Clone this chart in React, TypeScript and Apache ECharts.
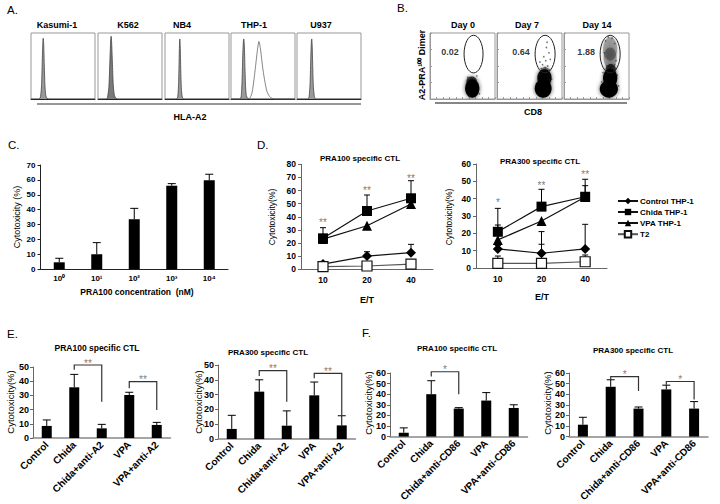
import { useEffect, useRef } from 'react';
import * as echarts from 'echarts';

const FONT = '"Liberation Sans", Arial, Helvetica, sans-serif';

// ---------- Panel A: HLA-A2 histograms ----------
const histTitles = ['Kasumi-1', 'K562', 'NB4', 'THP-1', 'U937'];
const histKasumi = [[0, 0], [13, 0], [15, 4], [16.5, 20], [17.5, 55], [18.5, 85], [19, 92], [19.8, 84], [20.8, 50], [21.8, 20], [23, 6], [25, 1], [28, 0], [100, 0]];
const histK562 = [[0, 0], [13, 0], [15, 3], [17, 18], [18.5, 55], [19.8, 88], [20.5, 95], [21.3, 86], [22.5, 55], [23.8, 22], [25.5, 6], [28, 1], [31, 0], [100, 0]];
const histNB4 = [[0, 0], [18, 0], [20, 4], [21.3, 25], [22.2, 65], [22.8, 88], [23.2, 91], [23.8, 80], [24.6, 45], [25.6, 15], [27, 3], [29, 0], [100, 0]];
const histTHP1Iso = [[0, 0], [14, 0], [16, 5], [17.3, 28], [18.5, 70], [19.5, 89], [20, 91], [20.8, 82], [21.8, 48], [22.8, 18], [24, 5], [26, 1], [29, 0], [100, 0]];
const histTHP1Stain = [[0, 0], [26, 0], [30, 2], [33, 10], [36, 30], [39, 55], [41, 72], [42.5, 82], [43.5, 87], [44.5, 85], [46, 76], [48, 60], [50, 44], [53, 26], [56, 12], [60, 4], [64, 1], [68, 0], [100, 0]];
const histU937 = [[0, 0], [17, 0], [19, 4], [20.5, 25], [21.6, 65], [22.5, 88], [23, 91], [23.6, 84], [24.5, 52], [25.5, 20], [27, 5], [29, 0], [100, 0]];

// ---------- Panel B: dimer staining ----------
const dayTitles = ['Day 0', 'Day 7', 'Day 14'];
const gateLabels = ['0.02', '0.64', '1.88'];
const gates = [[67, 68, 14.6, 28.5], [74, 68, 15.4, 28.5], [71, 68, 15.4, 28.5]];
// density clouds: [cx, cy, rx, ry, opacity]
const cloudDay0 = [[65, 16, 11, 14, 1], [64, 27, 8, 7, 0.7]];
const cloudDay7 = [[71, 16, 13, 14, 1], [73, 32, 11, 13, 0.95], [74, 42, 7, 6, 0.45]];
const cloudDay14 = [[71, 62, 10, 16, 0.3], [71, 76, 11, 18, 0.28], [69, 15, 14, 13, 1], [71, 32, 11, 14, 1], [72, 45, 8, 8, 0.7]];
// sparse events: [x, y]
const sparseDay0 = [[58, 33], [72, 35], [60, 4], [76, 8]];
const sparseDay7 = [[70, 52], [75, 58], [78, 50], [72, 64], [80, 70], [76, 78], [82, 60], [74, 48], [68, 46], [77, 86], [66, 56], [81, 44], [64, 38], [84, 30]];
const sparseDay14 = [[64, 88], [78, 84], [62, 70], [80, 58], [66, 50], [78, 52], [60, 40], [82, 36], [58, 26], [84, 20], [74, 92], [68, 94]];

// ---------- Panel C ----------
const concLabels = ['10⁰', '10¹', '10²', '10³', '10⁴'];
const concMean = [4.7, 10.1, 33.6, 56.1, 59.7];
const concSd = [2.7, 7.8, 7.3, 1.4, 4.1];

// ---------- Panel D ----------
const etLabels = ['10', '20', '40'];
const dNames = ['Control THP-1', 'Chida THP-1', 'VPA THP-1', 'T2'];
const d100Control = [4, 10.1, 12.7];
const d100ControlSd = [2, 3.3, 6.3];
const d100Chida = [23.6, 44.4, 54.1];
const d100ChidaSd = [8.1, 12.2, 13.4];
const d100VPA = [23, 33.2, 49.8];
const d100VPASd = [0, 0, 0];
const d100T2 = [2, 2.5, 4];
const d100T2Sd = [1, 1.5, 1];
const d100Stars = ['**', '**', '**'];
const d100StarY = [37.5, 61.7, 71];
const d300Control = [11, 8.5, 11];
const d300ControlSd = [2, 12.5, 14.2];
const d300Chida = [20.9, 35.4, 41.1];
const d300ChidaSd = [13.5, 10, 10.1];
const d300VPA = [16.2, 27.1, 41];
const d300VPASd = [8.6, 0, 6.5];
const d300T2 = [2.7, 2.7, 3.6];
const d300T2Sd = [4.2, 11, 3.9];
const d300Stars = ['*', '**', '**'];
const d300StarY = [39, 49, 55];

// ---------- Panels E and F ----------
const eCats = ['Control', 'Chida', 'Chida+anti-A2', 'VPA', 'VPA+anti-A2'];
const fCats = ['Control', 'Chida', 'Chida+anti-CD86', 'VPA', 'VPA+anti-CD86'];
const e100Mean = [8.5, 35.7, 6.8, 30.3, 9.2];
const e100Sd = [4.2, 9.1, 2.8, 1.9, 1.8];
const e300Mean = [6.8, 32, 9, 29.5, 9.2];
const e300Sd = [9.2, 8, 10, 9, 6.5];
const f100Mean = [3.6, 40, 26.4, 34, 27];
const f100Sd = [4.6, 12.7, 0.9, 7.5, 3];
const f300Mean = [11.2, 47, 26.4, 44.5, 26.4];
const f300Sd = [7, 6.6, 1.5, 4, 6.6];
// [from, to, top, leftEnd, rightEnd]
const e100Brackets = [[1, 2, 51.4, 48, 25.6], [3, 4, 39.7, 35, 19.7]];
const e100BracketLabels = ['**', '**'];
const e300Brackets = [[1, 2, 46.2, 42.6, 25.2], [3, 4, 44.4, 41, 16.2]];
const e300BracketLabels = ['**', '**'];
const f100Brackets = [[1, 2, 61.2, 56.7, 40]];
const f100BracketLabels = ['*'];
const f300Brackets = [[1, 2, 56.6, 53.6, 43], [3, 4, 52, 49, 35]];
const f300BracketLabels = ['*', '*'];

function txt(x: number, y: number, text: string, size: number, weight = 'bold', opts: any = {}) {
  const align = opts.align || 'center';
  return {
    type: 'text',
    x,
    y,
    rotation: opts.rot || 0,
    silent: true,
    style: {
      text,
      fontSize: size,
      fontWeight: weight,
      fontFamily: FONT,
      fill: opts.fill || '#000',
      align,
      verticalAlign: 'middle',
      textAlign: align,
      textVerticalAlign: 'middle',
    },
  };
}

function buildOption() {
  const grids: any[] = [];
  const xAxes: any[] = [];
  const yAxes: any[] = [];
  const series: any[] = [];

  const addGrid = (g: any, xa: any, ya: any) => {
    grids.push(g);
    const i = grids.length - 1;
    xAxes.push({ ...xa, gridIndex: i });
    yAxes.push({ ...ya, gridIndex: i });
    return i;
  };

  const errSeries = (idx: number, means: number[], sds: number[], half: number, color = '#000') => ({
    type: 'custom',
    xAxisIndex: idx,
    yAxisIndex: idx,
    z: 3,
    clip: false,
    silent: true,
    itemStyle: { color },
    encode: { x: 0, y: 1 },
    data: means.map((m, i) => [i, m, sds[i]]),
    renderItem: (_p: any, api: any) => {
      const x = api.value(0);
      const m = api.value(1);
      const s = api.value(2);
      if (!(s > 0)) return { type: 'group', children: [] };
      const p0 = api.coord([x, m]);
      const p1 = api.coord([x, m + s]);
      return {
        type: 'group',
        children: [
          { type: 'line', shape: { x1: p0[0], y1: p0[1], x2: p1[0], y2: p1[1] }, style: { stroke: color, lineWidth: 1 } },
          { type: 'line', shape: { x1: p1[0] - half, y1: p1[1], x2: p1[0] + half, y2: p1[1] }, style: { stroke: color, lineWidth: 1 } },
        ],
      };
    },
  });

  // text labels through a transparent scatter series
  const labelSeries = (idx: number, pts: number[][], labels: string[], offsetX: number, offsetY: number, size = 10, color = '#555', weight = 'normal') => ({
    type: 'scatter',
    xAxisIndex: idx,
    yAxisIndex: idx,
    z: 6,
    clip: false,
    silent: true,
    symbol: 'circle',
    symbolSize: 1,
    itemStyle: { color: 'rgba(255,255,255,0)' },
    data: pts,
    label: {
      show: true,
      position: 'inside',
      offset: [offsetX, offsetY],
      formatter: (p: any) => labels[p.dataIndex],
      color,
      textBorderWidth: 0,
      textBorderColor: 'transparent',
      textShadowBlur: 0,
      fontSize: size,
      fontWeight: weight,
      fontFamily: FONT,
    },
  });

  const bracketSeries = (idx: number, br: number[][]) => ({
    type: 'custom',
    xAxisIndex: idx,
    yAxisIndex: idx,
    z: 5,
    clip: false,
    silent: true,
    encode: { x: 0, y: 2 },
    data: br,
    renderItem: (_p: any, api: any) => {
      const from = api.value(0);
      const to = api.value(1);
      const top = api.value(2);
      const pL = api.coord([from, api.value(3)]);
      const pT1 = api.coord([from, top]);
      const pT2 = api.coord([to, top]);
      const pR = api.coord([to, api.value(4)]);
      return { type: 'polyline', shape: { points: [pL, pT1, pT2, pR] }, style: { stroke: '#333', lineWidth: 1.2, fill: 'none' } };
    },
  });

  // ---- Panel A ----
  const aLefts = [31, 98, 165, 231, 297];
  const aHists = [[histKasumi], [histK562], [histNB4], [histTHP1Iso, histTHP1Stain], [histU937]];
  aLefts.forEach((left, i) => {
    const idx = addGrid(
      { left, top: 33, width: 64, height: 66, show: true, borderColor: '#999', borderWidth: 1 },
      { type: 'value', min: 0, max: 100, axisLine: { show: true, onZero: false, lineStyle: { color: '#222', width: 1 } }, axisTick: { show: false }, axisLabel: { show: false }, splitLine: { show: false } },
      { type: 'value', min: 0, max: 100, show: false }
    );
    aHists[i].forEach((h, k) => {
      series.push({
        type: 'line',
        xAxisIndex: idx,
        yAxisIndex: idx,
        data: h,
        showSymbol: false,
        smooth: 0.2,
        silent: true,
        lineStyle: { color: k === 0 ? '#444' : '#666', width: 0.8 },
        areaStyle: k === 0 ? { color: i === 1 ? '#7a7a7a' : '#9a9a9a', opacity: 1 } : undefined,
      });
    });
  });

  // ---- Panel B ----
  const bLefts = [430, 497, 564];
  const bClouds = [cloudDay0, cloudDay7, cloudDay14];
  const bSparse = [sparseDay0, sparseDay7, sparseDay14];
  bLefts.forEach((left, i) => {
    const idx = addGrid(
      { left, top: 33, width: 65, height: 66, show: true, borderColor: '#999', borderWidth: 1 },
      { type: 'value', min: 0, max: 100, interval: 10, axisLine: { show: true, onZero: false, lineStyle: { color: '#999' } }, axisTick: { show: true, inside: true, length: 2, lineStyle: { color: '#999' } }, axisLabel: { show: false }, splitLine: { show: false } },
      { type: 'value', min: 0, max: 100, interval: 25, axisLine: { show: true, onZero: false, lineStyle: { color: '#999' } }, axisTick: { show: true, inside: true, length: 2, lineStyle: { color: '#999' } }, axisLabel: { show: false }, splitLine: { show: false } }
    );
    series.push({
      type: 'custom',
      xAxisIndex: idx,
      yAxisIndex: idx,
      z: 2,
      clip: true,
      silent: true,
      data: bClouds[i],
      renderItem: (_p: any, api: any) => {
        const c = api.coord([api.value(0), api.value(1)]);
        const sz = api.size([api.value(2), api.value(3)]);
        return {
          type: 'ellipse',
          shape: { cx: c[0], cy: c[1], rx: sz[0], ry: sz[1] },
          style: { fill: '#000', opacity: api.value(4), shadowBlur: 4, shadowColor: 'rgba(0,0,0,0.7)' },
        };
      },
    });
    series.push({
      type: 'scatter',
      xAxisIndex: idx,
      yAxisIndex: idx,
      silent: true,
      symbolSize: 1.6,
      itemStyle: { color: '#333', opacity: 0.7 },
      data: bSparse[i],
    });
    series.push({
      type: 'custom',
      xAxisIndex: idx,
      yAxisIndex: idx,
      z: 5,
      clip: false,
      silent: true,
      data: [gates[i]],
      renderItem: (_p: any, api: any) => {
        const c = api.coord([api.value(0), api.value(1)]);
        const sz = api.size([api.value(2), api.value(3)]);
        return { type: 'ellipse', shape: { cx: c[0], cy: c[1], rx: sz[0], ry: sz[1] }, style: { fill: 'none', stroke: '#222', lineWidth: 1 } };
      },
    });
    // gate percentage label, placed left of the gate
    series.push(labelSeries(idx, [[gates[i][0] - gates[i][2], gates[i][1]]], [gateLabels[i]], -14, -2, 9, '#000', 'bold'));
  });

  // ---- Panel C ----
  const cIdx = addGrid(
    { left: 40.5, top: 165, width: 187.5, height: 104.3 },
    { type: 'category', data: concLabels, axisLine: { lineStyle: { color: '#222' } }, axisTick: { show: false }, axisLabel: { interval: 0, fontSize: 8, fontWeight: 'bold', color: '#000', margin: 5, fontFamily: FONT } },
    { type: 'value', min: 0, max: 70, interval: 10, axisLine: { show: true, lineStyle: { color: '#222' } }, axisTick: { show: true, length: 3, lineStyle: { color: '#222' } }, axisLabel: { fontSize: 8, fontWeight: 'bold', color: '#000', margin: 5, fontFamily: FONT }, splitLine: { show: false } }
  );
  series.push({ type: 'bar', xAxisIndex: cIdx, yAxisIndex: cIdx, data: concMean, barWidth: 11, itemStyle: { color: '#000' }, silent: true });
  series.push(errSeries(cIdx, concMean, concSd, 4));

  // ---- Panel D ----
  const dPanels = [
    { left: 301, top: 164.3, width: 132, height: 105, max: 80, vals: [d100Control, d100Chida, d100VPA, d100T2], sds: [d100ControlSd, d100ChidaSd, d100VPASd, d100T2Sd], stars: d100Stars, starY: d100StarY },
    { left: 476, top: 164, width: 131, height: 104, max: 60, vals: [d300Control, d300Chida, d300VPA, d300T2], sds: [d300ControlSd, d300ChidaSd, d300VPASd, d300T2Sd], stars: d300Stars, starY: d300StarY },
  ];
  const symbols = ['diamond', 'rect', 'triangle', 'rect'];
  const symSizes = [10, 10, 10, 10];
  dPanels.forEach((p) => {
    const idx = addGrid(
      { left: p.left, top: p.top, width: p.width, height: p.height },
      { type: 'category', data: etLabels, axisLine: { lineStyle: { color: '#666' } }, axisTick: { show: false }, axisLabel: { interval: 0, fontSize: 8.5, fontWeight: 'bold', color: '#000', margin: 6, fontFamily: FONT } },
      { type: 'value', min: 0, max: p.max, interval: 10, axisLine: { show: true, lineStyle: { color: '#666' } }, axisTick: { show: true, length: 3, lineStyle: { color: '#666' } }, axisLabel: { fontSize: 8.5, fontWeight: 'bold', color: '#000', margin: 5, fontFamily: FONT }, splitLine: { show: false } }
    );
    p.vals.forEach((v, k) => {
      series.push(errSeries(idx, v, p.sds[k], 3));
    });
    p.vals.forEach((v, k) => {
      series.push({
        type: 'line',
        name: dNames[k],
        xAxisIndex: idx,
        yAxisIndex: idx,
        data: v,
        z: 4,
        symbol: symbols[k],
        symbolSize: symSizes[k],
        silent: true,
        lineStyle: { color: k === 3 ? '#555' : '#111', width: 1.2 },
        itemStyle: k === 3 ? { color: '#fff', borderColor: '#111', borderWidth: 1.2 } : { color: '#000' },
      });
    });
    series.push(labelSeries(idx, p.starY.map((y, i) => [i, y]), p.stars, 0, 2));
  });

  // ---- Panels E and F ----
  const barPanels = [
    { left: 33, top: 367, width: 137.5, height: 71, max: 50, cats: eCats, mean: e100Mean, sd: e100Sd, br: e100Brackets, brl: e100BracketLabels },
    { left: 218, top: 365, width: 137.5, height: 74, max: 50, cats: eCats, mean: e300Mean, sd: e300Sd, br: e300Brackets, brl: e300BracketLabels },
    { left: 390, top: 373, width: 137.5, height: 66, max: 60, cats: fCats, mean: f100Mean, sd: f100Sd, br: f100Brackets, brl: f100BracketLabels },
    { left: 569, top: 373, width: 139, height: 66, max: 60, cats: fCats, mean: f300Mean, sd: f300Sd, br: f300Brackets, brl: f300BracketLabels },
  ];
  barPanels.forEach((p) => {
    const idx = addGrid(
      { left: p.left, top: p.top, width: p.width, height: p.height },
      { type: 'category', data: p.cats, axisLine: { lineStyle: { color: '#888', width: 1.5 } }, axisTick: { show: false }, axisLabel: { interval: 0, rotate: 45, fontSize: 10, fontWeight: 'bold', color: '#000', margin: 5, fontFamily: FONT } },
      { type: 'value', min: 0, max: p.max, interval: 10, axisLine: { show: true, lineStyle: { color: '#666' } }, axisTick: { show: true, length: 3, lineStyle: { color: '#666' } }, axisLabel: { fontSize: 9, fontWeight: 'bold', color: '#000', margin: 4, fontFamily: FONT }, splitLine: { show: false } }
    );
    series.push({ type: 'bar', xAxisIndex: idx, yAxisIndex: idx, data: p.mean, barWidth: 10, itemStyle: { color: '#000' }, silent: true });
    series.push(errSeries(idx, p.mean, p.sd, 4));
    series.push(bracketSeries(idx, p.br));
    const half = p.width / p.cats.length / 2;
    series.push(labelSeries(idx, p.br.map((b) => [b[0], b[2]]), p.brl, half, -2));
  });

  const rot = Math.PI / 2;
  const graphic: any[] = [
    // panel letters
    txt(7, 10, 'A.', 11.5, 'normal', { align: 'left' }),
    txt(397, 8, 'B.', 11.5, 'normal', { align: 'left' }),
    txt(8, 145, 'C.', 11.5, 'normal', { align: 'left' }),
    txt(257, 145, 'D.', 11.5, 'normal', { align: 'left' }),
    txt(7, 334, 'E.', 11.5, 'normal', { align: 'left' }),
    txt(362, 333, 'F.', 11.5, 'normal', { align: 'left' }),
    // A
    ...histTitles.map((t, i) => txt([57, 128, 182, 254, 321][i], 25, t, 9)),
    { type: 'line', silent: true, shape: { x1: 37, y1: 104, x2: 361, y2: 104 }, style: { stroke: '#333', lineWidth: 1.2 } },
    txt(190, 117, 'HLA-A2', 9),
    // B
    ...dayTitles.map((t, i) => txt([463, 527, 597][i], 25, t, 9)),
    { type: 'line', silent: true, shape: { x1: 435, y1: 103, x2: 627, y2: 103 }, style: { stroke: '#111', lineWidth: 1.2 } },
    txt(533, 112, 'CD8', 9),
    txt(422, 65, 'A2-PRA¹⁰⁰ Dimer', 9, 'bold', { rot }),
    // C
    txt(137, 292, 'PRA100 concentration  (nM)', 8.5),
    txt(17, 217, 'Cytotoxicity (%)', 9, 'normal', { rot }),
    // D
    txt(360, 158, 'PRA100 specific CTL', 8),
    txt(540, 161, 'PRA300 specific CTL', 8),
    txt(367, 300, 'E/T', 9),
    txt(542, 297, 'E/T', 9),
    txt(272, 217, 'Cytotoxicity(%)', 8.5, 'normal', { rot }),
    txt(449, 217, 'Cytotoxicity(%)', 8.5, 'normal', { rot }),
    // E
    txt(97, 348, 'PRA100 specific CTL', 8.5),
    txt(268, 352, 'PRA300 specific CTL', 8),
    txt(10, 402, 'Cytotoxicity(%)', 9.5, 'normal', { rot }),
    txt(198, 402, 'Cytotoxicity(%)', 9.5, 'normal', { rot }),
    // F
    txt(457, 348, 'PRA100 specific CTL', 8),
    txt(633, 350, 'PRA300 specific CTL', 8),
    txt(368, 403, 'Cytotoxicity(%)', 9.5, 'normal', { rot }),
    txt(547, 403, 'Cytotoxicity(%)', 9.5, 'normal', { rot }),
  ];

  return {
    animation: false,
    backgroundColor: '#fff',
    textStyle: { fontFamily: FONT },
    grid: grids,
    xAxis: xAxes,
    yAxis: yAxes,
    series,
    legend: {
      data: dNames,
      orient: 'vertical',
      left: 612,
      top: 192,
      itemWidth: 20,
      itemHeight: 8,
      itemGap: 3,
      selectedMode: false,
      textStyle: { fontSize: 8, fontWeight: 'bold', color: '#000', fontFamily: FONT, padding: [0, 0, 0, -3] },
    },
    graphic,
  };
}

export default function App() {
  const ref = useRef<HTMLDivElement>(null);
  useEffect(() => {
    if (!ref.current) return;
    const chart = echarts.init(ref.current, undefined, { renderer: 'svg' });
    chart.setOption(buildOption() as any);
    return () => chart.dispose();
  }, []);
  return <div ref={ref} style={{ position: 'absolute', left: 0, top: 0, width: 720, height: 504 }} />;
}
